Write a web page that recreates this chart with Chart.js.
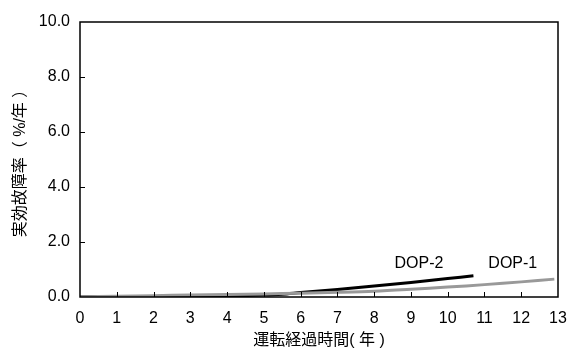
<!DOCTYPE html>
<html lang="ja">
<head>
  <meta charset="UTF-8">
  <title>実効故障率</title>
  <script src="https://cdn.jsdelivr.net/npm/chart.js"></script>
  <style>
    html, body { margin: 0; padding: 0; background: #fff; }
    #wrap { width: 572px; height: 351px; }
  </style>
</head>
<body>
<div id="wrap"><canvas id="rateChart" width="572" height="351"></canvas></div>
<script>
// years of operation and failure rate (%/year)
const dop1Years = [0, 1, 2, 3, 4, 5, 6, 7, 8, 9, 10, 11, 12, 12.9];
const dop1Rate  = [0.0, 0.03, 0.05, 0.07, 0.09, 0.11, 0.14, 0.17, 0.21, 0.28, 0.36, 0.45, 0.55, 0.65];
const dop2Years = [0, 1, 2, 3, 4, 5, 5.5, 6, 7, 8, 9, 10, 10.7];
const dop2Rate  = [0.0, 0.01, 0.02, 0.03, 0.04, 0.07, 0.1, 0.16, 0.27, 0.40, 0.53, 0.67, 0.77];
const seriesLabels = ['DOP-1', 'DOP-2'];
const labelPos = [[11.77, 1.22], [9.22, 1.22]];

const FONT = "'Liberation Sans', Arial, 'Noto Sans CJK JP', sans-serif";

const toPts = (xs, ys) => xs.map((x, i) => ({ x, y: ys[i] }));

// inward ticks, frame and series names
const decor = {
  id: 'decor',
  afterDatasetsDraw(chart) {
    const { ctx, chartArea: a, scales: { x, y } } = chart;
    ctx.save();
    ctx.strokeStyle = '#000';
    ctx.lineWidth = 1;
    for (let v = 1; v < 13; v++) {
      const px = Math.round(x.getPixelForValue(v)) + 0.5;
      ctx.beginPath(); ctx.moveTo(px, a.bottom); ctx.lineTo(px, a.bottom - 5); ctx.stroke();
    }
    for (let v = 2; v < 10; v += 2) {
      const py = Math.round(y.getPixelForValue(v)) + 0.5;
      ctx.beginPath(); ctx.moveTo(a.left, py); ctx.lineTo(a.left + 5, py); ctx.stroke();
    }
    ctx.lineWidth = 1.5;
    ctx.strokeRect(a.left, a.top, a.right - a.left, a.bottom - a.top);
    ctx.fillStyle = '#000';
    ctx.font = '16px ' + FONT;
    ctx.textAlign = 'center';
    ctx.textBaseline = 'middle';
    seriesLabels.forEach((t, i) => {
      ctx.fillText(t, x.getPixelForValue(labelPos[i][0]), y.getPixelForValue(labelPos[i][1]));
    });
    ctx.restore();
  }
};

new Chart(document.getElementById('rateChart').getContext('2d'), {
  type: 'line',
  data: {
    datasets: [
      { label: 'DOP-1', data: toPts(dop1Years, dop1Rate), borderColor: '#999', borderWidth: 3, pointRadius: 0, tension: 0.3, fill: false },
      { label: 'DOP-2', data: toPts(dop2Years, dop2Rate), borderColor: '#000', borderWidth: 3, pointRadius: 0, tension: 0.3, fill: false }
    ]
  },
  options: {
    responsive: false,
    animation: false,
    layout: { padding: { top: 22, right: 14, left: 11, bottom: 0 } },
    plugins: { legend: { display: false }, tooltip: { enabled: false } },
    scales: {
      x: {
        type: 'linear', min: 0, max: 13,
        grid: { display: false, drawTicks: false },
        border: { display: false },
        ticks: { stepSize: 1, color: '#000', padding: 12, maxRotation: 0, font: { family: FONT, size: 16 } },
        title: { display: true, text: '運転経過時間( 年 )', color: '#000', padding: { top: 0, bottom: 1 }, font: { family: FONT, size: 16 } },
        afterFit(s) { s.height = 54; s.paddingLeft = 0; s.paddingRight = 0; }
      },
      y: {
        min: 0, max: 10,
        grid: { display: false, drawTicks: false },
        border: { display: false },
        ticks: { stepSize: 2, color: '#000', padding: 10, font: { family: FONT, size: 16 }, callback: v => v.toFixed(1) },
        title: { display: true, text: '実効故障率（ %/年 ）', color: '#000', padding: 0, font: { family: FONT, size: 16 } },
        afterFit(s) { s.width = 69; s.paddingTop = 0; s.paddingBottom = 0; }
      }
    }
  },
  plugins: [decor]
});
</script>
</body>
</html>
